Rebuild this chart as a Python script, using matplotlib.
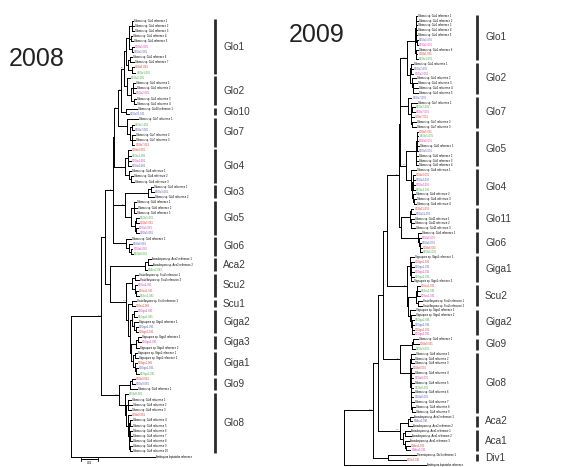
import matplotlib
matplotlib.use("Agg")
import matplotlib.pyplot as plt
from matplotlib.collections import LineCollection

# leaf tokens: k = reference sequence, r/m/b/g = clones from the four sites
site_colors = {"k": "black", "r": "#e2403a", "m": "#e03cb4", "b": "#5c5cbc", "g": "#44b044"}
site_codes = {"r": "S1", "m": "S2", "b": "S3", "g": "S4"}
genus_names = {"Glo": "Glomus", "Giga": "Gigaspora", "Scu": "Scutellospora",
               "Aca": "Acaulospora", "Div": "Diversispora"}
outgroup_name = "Ambispora leptoticha reference"
years = ["2008", "2009"]

# branch lengths in 0.001 substitutions / site
clades_2008 = {
    "Glo1": "(((k:1,k:1.2,k:1.5):1.5,(k:1,k:1.5):1,(m:1.2,b:1):1.5):1.5,((k:1.5,k:2.5):1,(r:0.8,g:1.8):2.5):1)Glo1:1.6",
    "Glo2": "(g:1.5,((k:1,k:1.3,m:1):1.5,(k:1,k:1.3):2):2)Glo2:2.2",
    "Glo10": "(k:6.5,b:1.8)Glo10:2.9",
    "Glo7": "(k:6,((g:1.5,b:1.5):1,(k:1.5,k:1.8,r:1.2):1.5):1.5)Glo7:5.5",
    "Glo4": "((r:1.5,g:1.8,m:1.5,b:1.5):1.5,(k:1.5,(k:1.2,k:1.8):1):2)Glo4:6.5",
    "Glo3": "((k:1.5,b:2):1.5,k:3.5)Glo3:13.7",
    "Glo5": "((k:1.5,k:1.8,k:1.5):1.5,((g:1.2,r:1.2):1,(m:1,b:1.5):1):2)Glo5:3.9",
    "Glo6": "(k:2.5,(b:1.5,(m:1,g:1.5):1):1.5)Glo6:7.9",
    "Aca2": "((k:2,k:2.5):2,g:1.5)Aca2:20.6",
    "Scu2": "((k:2,k:2.5):1.5,(m:1.5,(r:1,g:1.5):1):1.5)Scu2:3.5",
    "Scu1": "(k:2,r:1.5)Scu1:2.4",
    "Giga2": "((m:1.5,g:1.5):1,(k:2,(b:1,r:1.2):1):1)Giga2:1.5",
    "Giga3": "((k:2,m:1.5):1,k:1.5)Giga3:2.9",
    "Giga1": "((k:1.5,k:1.8):1,(r:1.5,(b:1.2,g:1.8):0.8):1)Giga1:0.9",
    "Glo9": "((r:1.5,b:1.5):1,k:4)Glo9:6.7",
    "Glo8": "(g:2,((k:1.5,k:2,k:1.5):1,(r:1.5,((k:1.5,k:1.5):0.5,(k:1.5,k:1.5,k:1.5):0.5,(k:1.5,k:1.5):0.5):0.5):1):1)Glo8:3.4",
}
backbone_2008 = ("(((((((({Glo1},{Glo2})98:1.4,{Glo10})60:2,{Glo7})91:2.1,{Glo4}):0.8,"
                 "({Glo3},{Glo5})99:6.9,{Glo6})87:4.5,({Aca2},({Scu2},({Scu1},({Giga2},"
                 "({Giga3},{Giga1}):0.9):0.9):1.2)100:9.8):2.5):2.4,({Glo9},{Glo8})100:10.4)100:18,k:49.5)")

clades_2009 = {
    "Glo1": "(((k:0.5,k:0.8):0.3,(k:0.5,k:0.6):0.3,(k:0.5,(b:0.5,m:0.6):0.3):0.3):0.5,(k:1.2,(r:0.6,g:0.8):0.5):0.4)Glo1:4.9",
    "Glo2": "((k:1.5,(b:1,m:1.2):0.5):0.5,(k:2,(k:2.5,(k:2.5,k:2.5):0.3):0.3):1.5)Glo2:1.9",
    "Glo7": "(b:2,(k:4,((g:1.5,m:1.8):0.5,r:1.5):0.5,(k:2.5,k:2.5):0.7):1.5)Glo7:4.7",
    "Glo5": "((r:1,g:1.1,m:1,k:1.2,b:0.8):0.5,(k:1,k:1.2,k:1.3):0.3)Glo5:5.5",
    "Glo4": "(k:3,((r:1,b:1,m:1,g:1.2):0.5,(k:1.2,(k:1.5,k:1.4):0.3):0.6):0.5)Glo4:2.9",
    "Glo11": "((r:1.2,b:1.8):1,(k:2,(k:1.5,k:2):0.5):0.5)Glo11:4.9",
    "Glo6": "(k:1.5,(m:1,(b:0.8,(r:0.8,g:1):0.3):0.5):0.5)Glo6:9.8",
    "Giga1": "(k:2.5,((r:1.5,b:1.5,m:1.5,g:1.5):0.5,k:1.5):0.5)Giga1:1.9",
    "Scu2": "((r:1.5,g:1.5,m:1.5):0.8,(k:2.5,k:2.8):1)Scu2:4.5",
    "Giga2": "(k:3,(k:2.5,(g:1.5,b:1.5,r:1.5,m:1.5):0.5):0.5)Giga2:1",
    "Glo9": "((k:3,r:3.5):1,g:2)Glo9:7",
    "Glo8": "((k:2.5,k:2,k:2):0.5,(r:1,(k:1.5,m:1.2):0.5,(k:1.5,g:1.2):0.5,(k:1.5,b:1.2):0.5,(k:1.5,(k:1.8,k:1.5):0.3):0.5):0.5)Glo8:5.9",
    "Aca2": "((k:2,b:1.5):1,k:2)Aca2:4.9",
    "Aca1": "((k:3,k:3.5):1,(k:2.5,(r:2.5,m:2.8):0.5):1)Aca1:1.9",
    "Div1": "(k:16.5,r:10.5)Div1:8.8",
}
backbone_2009 = ("((((((((({Glo1},{Glo2})100:3.8,{Glo7}):0.3,({Glo5},{Glo4})100:4):0.3,"
                 "({Glo11},{Glo6})88:1.4)95:7,({Giga1},({Scu2},{Giga2}):1)95:11.4):2.4,"
                 "({Glo9},{Glo8})99:9.8):2.9,({Aca2},{Aca1})100:12.8):2.9,{Div1})100:17,k:48)")

PX_PER_UNIT = 1.7  # 0.01 = 17 px scale bar


def parse_newick(s):
    pos = 0

    def node():
        nonlocal pos
        children = []
        if s[pos] == "(":
            pos += 1
            while True:
                children.append(node())
                if s[pos] == ",":
                    pos += 1
                    continue
                pos += 1  # ')'
                break
        start = pos
        while pos < len(s) and s[pos] not in ":,();":
            pos += 1
        label = s[start:pos]
        length = 0.0
        if pos < len(s) and s[pos] == ":":
            pos += 1
            start = pos
            while pos < len(s) and s[pos] not in ",();":
                pos += 1
            length = float(s[start:pos])
        return {"label": label, "length": length, "children": children}

    return node()


def draw_tree(ax, newick, year, x0, y_first, y_step, bar_x, pad):
    tree = parse_newick(newick)
    leaves = []
    counters = {}
    clade_nodes = []
    segs = []

    def place(n, x_parent, clade):
        n["x"] = x_parent + n["length"] * PX_PER_UNIT
        lab = n["label"]
        if n["children"] and lab and not lab.isdigit():
            clade = lab
            clade_nodes.append(n)
        n["clade"] = clade
        if not n["children"]:
            n["y"] = y_first + len(leaves) * y_step
            leaves.append(n)
        else:
            for c in n["children"]:
                place(c, n["x"], clade)
            n["y"] = (n["children"][0]["y"] + n["children"][-1]["y"]) / 2

    place(tree, x0, None)

    def collect(n):
        if not n["children"]:
            return [n["y"]]
        ys = []
        for c in n["children"]:
            segs.append([(n["x"], c["y"]), (c["x"], c["y"])])
            ys += collect(c)
        segs.append([(n["x"], n["children"][0]["y"]), (n["x"], n["children"][-1]["y"])])
        if n["label"].isdigit():
            ax.text(n["x"] - 0.6, n["y"] - 0.4, n["label"], fontsize=1.5, color="#555555",
                    ha="right", va="bottom")
        n["leaf_ys"] = ys
        return ys

    collect(tree)
    ax.add_collection(LineCollection(segs, colors="black", linewidths=0.7, capstyle="projecting"))

    for leaf in leaves:
        code = leaf["label"]
        clade = leaf["clade"]
        if clade is None:
            name = outgroup_name
        else:
            counters[(clade, code)] = counters.get((clade, code), 0) + 1
            i = counters[(clade, code)]
            if code == "k":
                genus = genus_names[clade.rstrip("0123456789")]
                name = f"{genus} sp. {clade} reference {i}"
            else:
                name = f"{site_codes[code]}{clade}-{year[2:]}{i}"
        ax.text(leaf["x"] + 1.0, leaf["y"], name, fontsize=1.9, color=site_colors[code],
                ha="left", va="center")

    for n in clade_nodes:
        y0 = min(n["leaf_ys"]) - pad
        y1 = max(n["leaf_ys"]) + pad
        ax.plot([bar_x, bar_x], [y0, y1], color="#2b2b2b", lw=2.0, solid_capstyle="butt")
        ax.text(bar_x + 8.5, (y0 + y1) / 2, n["label"], fontsize=7.2, color="#3a3a3a",
                ha="left", va="center")
    return tree


plt.rcParams["font.family"] = ["Liberation Sans", "DejaVu Sans"]
fig = plt.figure(figsize=(5.62, 4.67), dpi=100)
ax = fig.add_axes([0, 0, 1, 1])
ax.set_xlim(0, 562)
ax.set_ylim(467, 0)
ax.axis("off")

tree_2008 = backbone_2008.format(**clades_2008)
tree_2009 = backbone_2009.format(**clades_2009)

draw_tree(ax, tree_2008, years[0], x0=70.7, y_first=20.7, y_step=5.19, bar_x=214.5, pad=1.3)
draw_tree(ax, tree_2009, years[1], x0=344.3, y_first=15.7, y_step=4.83, bar_x=476.5, pad=0.8)

ax.text(37, 59, years[0], fontsize=18, color="#222222", ha="center", va="center")
ax.text(317, 35, years[1], fontsize=18, color="#222222", ha="center", va="center")

# scale bar (0.01)
sb_x, sb_y = 80.7, 459.3
sb_len = 10 * PX_PER_UNIT
ax.plot([sb_x, sb_x + sb_len], [sb_y, sb_y], color="black", lw=0.7)
ax.plot([sb_x, sb_x], [sb_y - 1.2, sb_y + 1.2], color="black", lw=0.6)
ax.plot([sb_x + sb_len, sb_x + sb_len], [sb_y - 1.2, sb_y + 1.2], color="black", lw=0.6)
ax.text(sb_x + sb_len / 2, sb_y + 2.0, "0.01", fontsize=1.9, ha="center", va="top")

fig.savefig("out.png", dpi=100)
